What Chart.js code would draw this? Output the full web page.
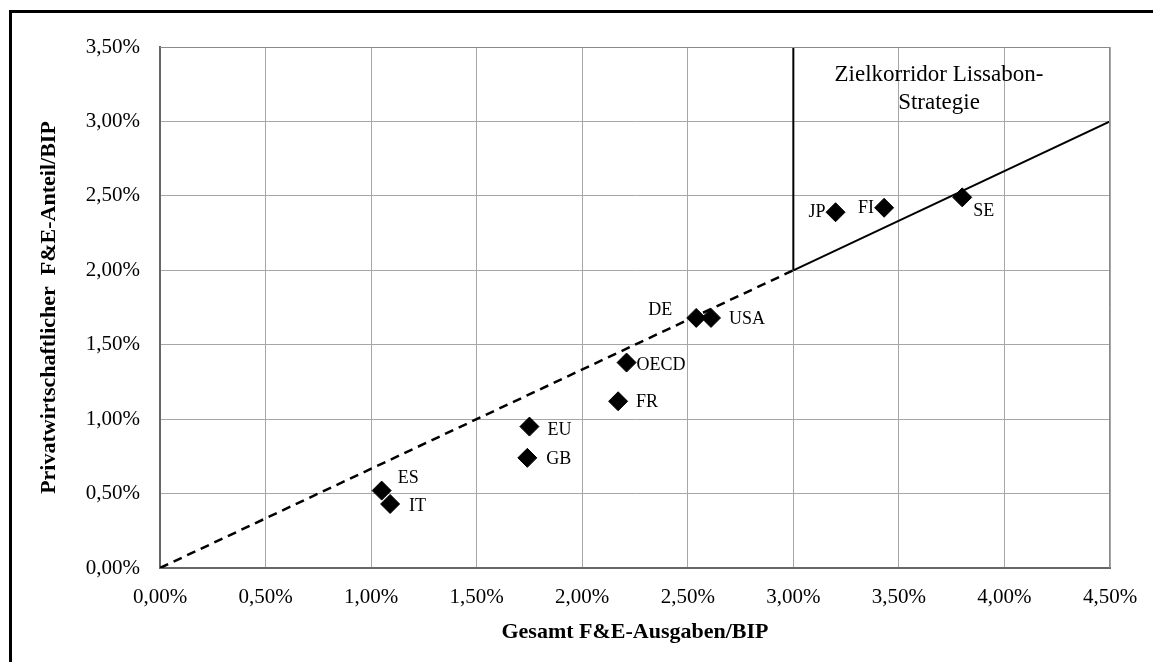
<!DOCTYPE html>
<html>
<head>
<meta charset="utf-8">
<script src="https://cdn.jsdelivr.net/npm/chart.js@4/dist/chart.umd.min.js"></script>
<style>
  html, body { margin: 0; padding: 0; background: #fff; overflow: hidden; }
  #wrap { position: relative; width: 1153px; height: 662px; }
  #frame { position: absolute; left: 9px; top: 10px; width: 1200px; height: 700px; border: 3px solid #000; box-sizing: border-box; pointer-events: none; }
</style>
</head>
<body>
<div id="wrap">
  <canvas id="scatter-chart" width="1153" height="662"></canvas>
  <div id="frame"></div>
</div>
<script>
// Länder und Werte (in %)
const countries = ['ES', 'IT', 'EU', 'GB', 'FR', 'OECD', 'DE', 'USA', 'JP', 'FI', 'SE'];
const totalRD = [1.05, 1.09, 1.75, 1.74, 2.17, 2.21, 2.54, 2.61, 3.20, 3.43, 3.80];
const privateRD = [0.52, 0.43, 0.95, 0.74, 1.12, 1.38, 1.68, 1.68, 2.39, 2.42, 2.49];

// Hilfslinien
const dashedLineX = [0, 3.0];
const dashedLineY = [0, 2.0];
const targetLineX = [3.0, 4.5];
const targetLineY = [2.0, 3.0];
const corridorX = [3.0, 3.0];
const corridorY = [2.0, 3.5];

const xTicks = [0, 0.5, 1, 1.5, 2, 2.5, 3, 3.5, 4, 4.5];
const yTicks = [0, 0.5, 1, 1.5, 2, 2.5, 3, 3.5];

const corridorText = ['Zielkorridor Lissabon-', 'Strategie'];

// label placement: [dx, dy, align]
const labelPos = {
  ES: [16, -12, 'left'], IT: [19, 2, 'left'], EU: [18, 4, 'left'], GB: [19, 1, 'left'],
  FR: [18, 1, 'left'], OECD: [10, 3, 'left'], DE: [-24, -8, 'right'], USA: [18, 1, 'left'],
  JP: [-10, 0, 'right'], FI: [-10, 0, 'right'], SE: [11, 14, 'left'],
};

const pct = v => v.toFixed(2).replace('.', ',') + '%';
const pts = (xs, ys) => xs.map((x, i) => ({ x: x, y: ys[i] }));
const serif = '"Liberation Serif", "Times New Roman", serif';

const extras = {
  id: 'extras',
  afterDraw(chart) {
    const { ctx, chartArea: a, scales: { x, y } } = chart;
    ctx.save();
    ctx.strokeStyle = '#8a8a8a';
    ctx.lineWidth = 1;
    ctx.beginPath();
    ctx.moveTo(a.left, a.top + 0.5);
    ctx.lineTo(a.right - 0.5, a.top + 0.5);
    ctx.lineTo(a.right - 0.5, a.bottom);
    ctx.stroke();

    ctx.fillStyle = '#000';
    ctx.font = '18px ' + serif;
    ctx.textBaseline = 'middle';
    const meta = chart.getDatasetMeta(0);
    meta.data.forEach((p, i) => {
      const [dx, dy, al] = labelPos[countries[i]];
      ctx.textAlign = al;
      ctx.fillText(countries[i], p.x + dx, p.y + dy);
    });

    ctx.font = '23px ' + serif;
    ctx.textAlign = 'center';
    const cx = x.getPixelForValue(3.69);
    ctx.fillText(corridorText[0], cx, y.getPixelForValue(3.31));
    ctx.fillText(corridorText[1], cx, y.getPixelForValue(3.125));
    ctx.restore();
  }
};

new Chart(document.getElementById('scatter-chart'), {
  type: 'scatter',
  data: {
    datasets: [
      {
        label: 'Länder',
        data: pts(totalRD, privateRD),
        pointStyle: 'rectRot',
        pointRadius: 9.5,
        pointHoverRadius: 9.5,
        backgroundColor: '#000',
        borderColor: '#000',
        order: 0,
      },
      {
        label: 'Trend',
        data: pts(dashedLineX, dashedLineY),
        showLine: true,
        borderColor: '#000',
        borderWidth: 2.5,
        borderDash: [9, 6],
        pointRadius: 0,
        order: 1,
      },
      {
        label: 'Ziel',
        data: pts(targetLineX, targetLineY),
        showLine: true,
        borderColor: '#000',
        borderWidth: 2,
        pointRadius: 0,
        order: 1,
      },
      {
        label: 'Korridor',
        data: pts(corridorX, corridorY),
        showLine: true,
        borderColor: '#000',
        borderWidth: 2,
        pointRadius: 0,
        order: 1,
      },
    ],
  },
  options: {
    responsive: false,
    animation: false,
    layout: { padding: { left: 36, right: 43, top: 47, bottom: 16 } },
    plugins: { legend: { display: false }, tooltip: { enabled: false } },
    scales: {
      x: {
        type: 'linear',
        min: 0,
        max: 4.5,
        afterBuildTicks: s => { s.ticks = xTicks.map(v => ({ value: v })); },
        afterFit: s => { s.height = 78; s.paddingLeft = 0; s.paddingRight = 0; },
        ticks: { callback: pct, color: '#000', font: { family: serif, size: 21 }, padding: 17, maxRotation: 0 },
        grid: { color: '#a6a6a6', drawTicks: false },
        border: { color: '#666', width: 2 },
        title: { display: true, text: 'Gesamt F&E-Ausgaben/BIP', color: '#000', font: { family: serif, size: 22, weight: 'bold' }, padding: 0 },
      },
      y: {
        type: 'linear',
        min: 0,
        max: 3.5,
        afterBuildTicks: s => { s.ticks = yTicks.map(v => ({ value: v })); },
        afterFit: s => { s.width = 124; s.paddingTop = 0; s.paddingBottom = 0; },
        ticks: { callback: pct, color: '#000', font: { family: serif, size: 21 }, padding: 20 },
        grid: { color: '#a6a6a6', drawTicks: false },
        border: { color: '#666', width: 2 },
        title: { display: true, text: 'Privatwirtschaftlicher  F&E-Anteil/BIP', color: '#000', font: { family: serif, size: 22, weight: 'bold' }, padding: 0 },
      },
    },
  },
  plugins: [extras],
});
</script>
</body>
</html>
